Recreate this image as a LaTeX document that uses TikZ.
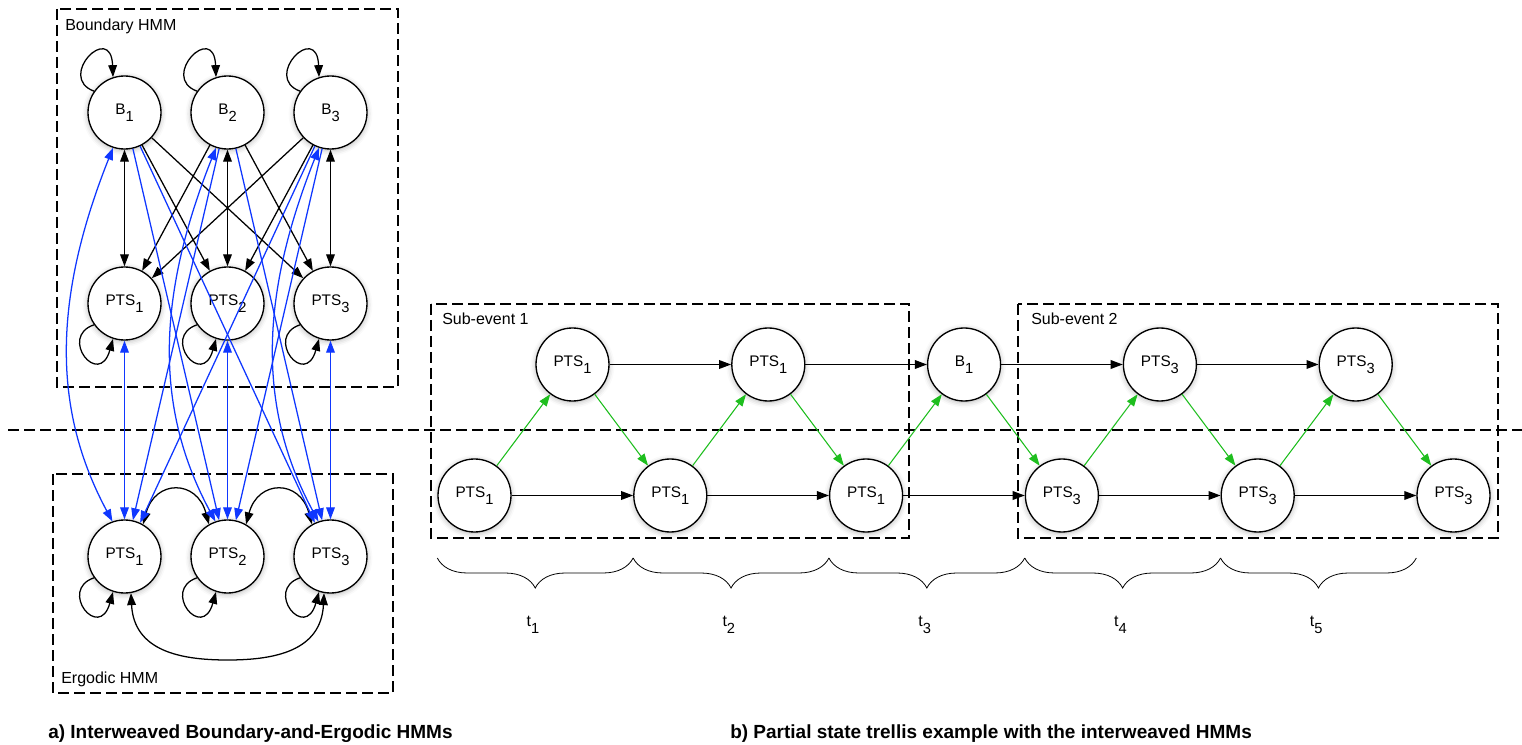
\documentclass[tikz,border=0pt]{standalone}
\usepackage{fontspec}
\setmainfont{Liberation Sans}
\usetikzlibrary{arrows.meta,decorations.pathreplacing,shadows.blur}
\definecolor{linkblue}{RGB}{15,55,255}
\definecolor{linkgreen}{RGB}{30,190,30}
\newcommand{\lsub}[1]{\raisebox{-5pt}{\fontsize{11pt}{11pt}\selectfont #1}}
\tikzset{
  hmmstate/.style={circle, draw, line width=1pt, fill=white, minimum size=54.75pt, inner sep=0pt, font=\fontsize{11.5pt}{13pt}\selectfont,
    blur shadow={shadow xshift=0pt, shadow yshift=-1pt, shadow blur radius=4pt, shadow opacity=30}},
  groupbox/.style={draw, dash pattern=on 8pt off 4pt, line width=0.9pt},
  boxlabel/.style={anchor=base west, inner sep=0pt, font=\fontsize{12pt}{14pt}\selectfont},
  caption/.style={anchor=base west, inner sep=0pt, font=\bfseries\fontsize{14.25pt}{17pt}\selectfont},
  tlabel/.style={inner sep=0pt, font=\fontsize{12pt}{14pt}\selectfont},
  link/.style={line width=0.95pt},
  bluelink/.style={line width=0.95pt, linkblue},
  greenlink/.style={line width=0.8pt, linkgreen},
  brace/.style={decorate, decoration={brace, amplitude=22.5pt, mirror}, line width=0.6pt}
}
\begin{document}
\begin{tikzpicture}[x=0.75pt, y=-0.75pt, >={Triangle[length=9pt,width=6.5pt]}]
\useasboundingbox (0,0) rectangle (1522,745);
\pgfmathsetmacro{\dx}{103}
\pgfmathsetmacro{\dt}{195.8}
\draw[groupbox] (57,9) rectangle (398,387);
\draw[groupbox] (53,474) rectangle (393,693);
\draw[groupbox] (431,304) rectangle (909,538);
\draw[groupbox] (1018,304) rectangle (1498,538);
\draw[groupbox] (8,430) -- (1522,430);
\node[boxlabel] (lbB) at (65,30.7) {Boundary HMM};
\node[boxlabel] (lbE) at (61,683.3) {Ergodic HMM};
\node[boxlabel] (lbS1) at (442,325) {Sub-event 1};
\node[boxlabel] (lbS2) at (1031,325) {Sub-event 2};
\foreach \i in {1,2,3}{
  \node[hmmstate] (B\i) at ({124.5+(\i-1)*\dx},112.5) {B\lsub{\i}};
  \node[hmmstate] (P\i) at ({124.5+(\i-1)*\dx},303.5) {PTS\lsub{\i}};
  \node[hmmstate] (E\i) at ({124.5+(\i-1)*\dx},556.5) {PTS\lsub{\i}};
}
\foreach \i in {1,2,3}{
  \draw[->,link] (B\i.145) .. controls +(-38,-14) and +(-2,-56) .. (B\i.108);
  \draw[->,link] (P\i.215) .. controls +(-36,12) and +(-14,50) .. (P\i.252);
  \draw[->,link] (E\i.215) .. controls +(-36,12) and +(-14,50) .. (E\i.252);
  \draw[<->,link] (B\i) -- (P\i);
  \foreach \j in {1,2,3}{
    \ifnum\i=\j\else \draw[->,link] (B\i) -- (P\j); \fi
  }
}
\draw[<->,link] (E1.60) .. controls +(12,-45) and +(-12,-45) .. (E2.120);
\draw[<->,link] (E2.60) .. controls +(12,-45) and +(-12,-45) .. (E3.120);
\coordinate (Earc) at (227.5,660);
\draw[<->,link] (E1.280) .. controls +(3,58) and +(-47,0) .. (Earc) .. controls +(47,0) and +(-3,58) .. (E3.260);
\foreach \i in {1,2,3}{
  \pgfmathsetmacro{\xc}{52.5+(\i-1)*\dx}
  \draw[<->,bluelink] (P\i) -- (E\i);
  \draw[<->,bluelink] (B\i.252) .. controls (\xc,300) and (\xc,410) .. (E\i.109);
  \foreach \j in {1,2,3}{
    \ifnum\i=\j\else \draw[->,bluelink] (B\i) -- (E\j); \fi
  }
}
\foreach \k/\s in {0/1,1/1,2/1,3/3,4/3,5/3}{
  \node[hmmstate] (L\k) at ({474.5+\k*\dt},495.5) {PTS\lsub{\s}};
}
\foreach \k/\n/\s in {0/PTS/1,1/PTS/1,2/B/1,3/PTS/3,4/PTS/3}{
  \node[hmmstate] (U\k) at ({572.5+\k*\dt},364.5) {\n\lsub{\s}};
}
\foreach \k [evaluate=\k as \kk using int(\k+1)] in {0,...,4}{
  \draw[->,link] (L\k) -- (L\kk);
  \draw[->,greenlink] (L\k) -- (U\k);
  \draw[->,greenlink] (U\k) -- (L\kk);
  \draw[brace] (L\k.west |- 0,558) -- (L\kk.west |- 0,558);
  \node[tlabel] (t\kk) at ({533+\k*\dt},625) {t\lsub{\kk}};
}
\foreach \k [evaluate=\k as \kk using int(\k+1)] in {0,...,3}{
  \draw[->,link] (U\k) -- (U\kk);
}
\node[caption] (capA) at (48,738.7) {a) Interweaved Boundary-and-Ergodic HMMs};
\node[caption] (capB) at (730,738.7) {b) Partial state trellis example with the interweaved HMMs};
\end{tikzpicture}
\end{document}
